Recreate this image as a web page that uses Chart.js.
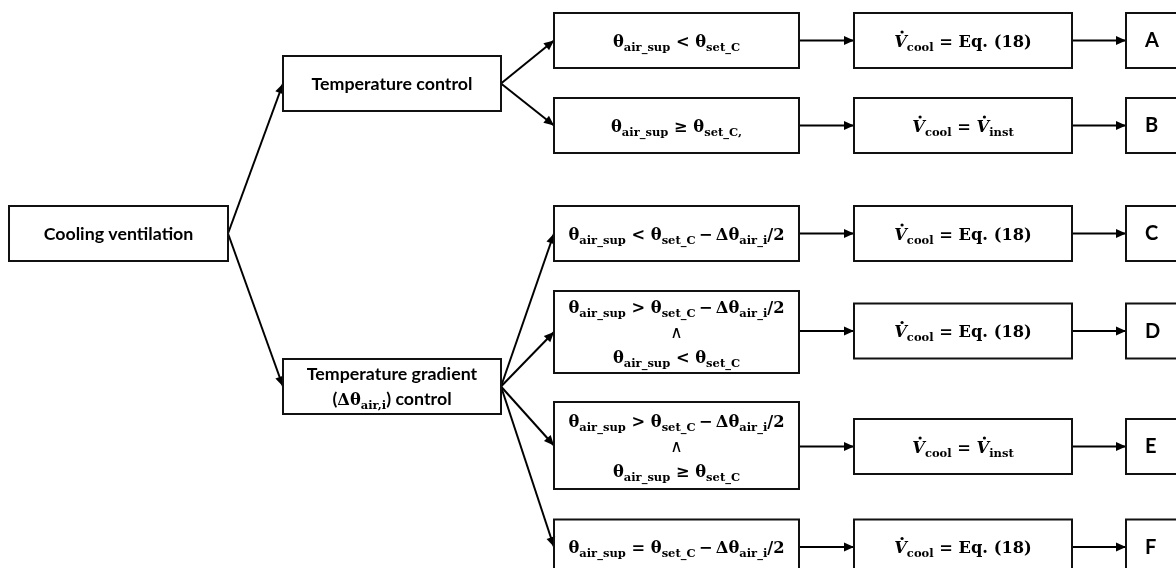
<!DOCTYPE html>
<html>
<head>
<meta charset="utf-8">
<script src="https://cdn.jsdelivr.net/npm/chart.js@4.4.1/dist/chart.umd.min.js"></script>
<style>
  html, body { margin: 0; padding: 0; background: #fff; }
  #wrap { width: 1176px; height: 568px; position: relative; }
</style>
</head>
<body>
<div id="wrap"><canvas id="flow"></canvas></div>
<script>
// node texts ($..$ = math font, _{..} = subscript, *..* = italic, \u0307 = dot above)
const rootText = 'Cooling ventilation';
const modeTexts = ['Temperature control', 'Temperature gradient\n($Δθ_{air,i}$) control'];
const conditionTexts = [
  'θ_{air_sup} < θ_{set_C}',
  'θ_{air_sup} ≥ θ_{set_C,}',
  'θ_{air_sup} < θ_{set_C}\u2009−\u2009Δθ_{air_i}/2',
  'θ_{air_sup} > θ_{set_C}\u2009−\u2009Δθ_{air_i}/2\n∧\nθ_{air_sup} < θ_{set_C}',
  'θ_{air_sup} > θ_{set_C}\u2009−\u2009Δθ_{air_i}/2\n∧\nθ_{air_sup} ≥ θ_{set_C}',
  'θ_{air_sup} = θ_{set_C}\u2009−\u2009Δθ_{air_i}/2'
];
const flowTexts = [
  '*V\u0307*_{cool} = Eq. (18)',
  '*V\u0307*_{cool} = *V\u0307*_{inst}',
  '*V\u0307*_{cool} = Eq. (18)',
  '*V\u0307*_{cool} = Eq. (18)',
  '*V\u0307*_{cool} = *V\u0307*_{inst}',
  '*V\u0307*_{cool} = Eq. (18)'
];
const caseLetters = ['A', 'B', 'C', 'D', 'E', 'F'];
const conditionMode = [0, 0, 1, 1, 1, 1]; // which mode each condition hangs from

// layout (scale units = pixels)
const colX = { root: [9, 228], mode: [283, 501], cond: [554, 799], flow: [854, 1072], letter: [1126, 1192] };
const rootY = 233.5;
const modeY = [83.5, 386.5];
const condY = [40.5, 125.5, 233.5, 332, 445.5, 547];
const condH = [55, 55, 55, 82, 87, 55];
const flowY = [40.5, 125.5, 233.5, 331, 446.5, 547];
const boxH = 55;

const SANS = '"Lato", "Open Sans", sans-serif';
const SERIF = '"DejaVu Serif", "Liberation Serif", serif';

function parse(str, defMath) {
  return str.split('\n').map(function (line) {
    const segs = [];
    let math = defMath, sub = false, ital = false, buf = '';
    const flush = function (dot) {
      if (buf) segs.push({ t: buf, math: math, sub: sub, ital: ital, dot: !!dot });
      buf = '';
    };
    for (let i = 0; i < line.length; i++) {
      const c = line[i];
      if (c === '$') { flush(); math = !math; }
      else if (c === '*') { flush(); ital = !ital; }
      else if (c === '_' && line[i + 1] === '{') { flush(); sub = true; i++; }
      else if (c === '}' && sub) { flush(); sub = false; }
      else if (c === '\u0307') { flush(true); }
      else buf += c;
    }
    flush();
    return segs;
  });
}

function segFont(s, big) {
  if (s.math) {
    if (s.t === '∧') return 'normal 17px ' + SERIF;
    const size = s.sub ? 11.5 : 16.3;
    return (s.ital ? 'italic ' : '') + 'bold ' + size + 'px ' + SERIF;
  }
  if (big) return 'bold 20px ' + SANS;
  return (s.sub ? 'bold 13px ' : 'bold 17.8px ') + SANS;
}

function drawRich(ctx, text, defMath, cx, cy, big) {
  const lines = parse(text, defMath);
  const gap = 25;
  const top = cy - (lines.length - 1) * gap / 2;
  lines.forEach(function (segs, li) {
    let w = 0;
    segs.forEach(function (s) { ctx.font = segFont(s, big); s.w = ctx.measureText(s.t).width; w += s.w; });
    let x = big ? cx : cx - w / 2;
    const base = top + li * gap + 6;
    segs.forEach(function (s) {
      ctx.font = segFont(s, big);
      ctx.fillText(s.t, x, base + (s.sub ? 4 : 0));
      if (s.dot) {
        ctx.beginPath();
        ctx.arc(x + s.w * 0.62, base - 14.5, 1.6, 0, Math.PI * 2);
        ctx.fill();
      }
      x += s.w;
    });
  });
}

// edges built from the layout
const edges = [];
modeY.forEach(function (y) { edges.push([[colX.root[1], rootY], [colX.mode[0], y]]); });
conditionMode.forEach(function (m, i) { edges.push([[colX.mode[1], modeY[m]], [colX.cond[0], condY[i]]]); });
flowY.forEach(function (y) { edges.push([[colX.cond[1], y], [colX.flow[0], y]]); });
flowY.forEach(function (y) { edges.push([[colX.flow[1], y], [colX.letter[0], y]]); });

const datasets = edges.map(function (e) {
  return {
    data: e.map(function (p) { return { x: p[0], y: p[1] }; }),
    showLine: true,
    borderColor: '#000',
    borderWidth: 2,
    pointRadius: 0,
    fill: false
  };
});

// boxes
const boxes = [{ x: colX.root, y: rootY, h: boxH, text: rootText, math: false }];
modeTexts.forEach(function (t, i) { boxes.push({ x: colX.mode, y: modeY[i], h: boxH, text: t, math: false }); });
conditionTexts.forEach(function (t, i) { boxes.push({ x: colX.cond, y: condY[i], h: condH[i], text: t, math: true }); });
flowTexts.forEach(function (t, i) { boxes.push({ x: colX.flow, y: flowY[i], h: boxH, text: t, math: true }); });
caseLetters.forEach(function (t, i) { boxes.push({ x: colX.letter, y: flowY[i], h: boxH, text: t, math: false, left: 1145 }); });

const flowPlugin = {
  id: 'flowPlugin',
  afterDatasetsDraw: function (chart) {
    const ctx = chart.ctx;
    const sx = chart.scales.x, sy = chart.scales.y;
    ctx.save();
    ctx.fillStyle = '#000';
    // arrow heads
    chart.data.datasets.forEach(function (ds, i) {
      const pts = chart.getDatasetMeta(i).data;
      const a = pts[0], b = pts[1];
      const ang = Math.atan2(b.y - a.y, b.x - a.x);
      const L = 10, W = 4.5;
      ctx.beginPath();
      ctx.moveTo(b.x, b.y);
      ctx.lineTo(b.x - L * Math.cos(ang) + W * Math.sin(ang), b.y - L * Math.sin(ang) - W * Math.cos(ang));
      ctx.lineTo(b.x - L * Math.cos(ang) - W * Math.sin(ang), b.y - L * Math.sin(ang) + W * Math.cos(ang));
      ctx.closePath();
      ctx.fill();
    });
    // boxes
    ctx.strokeStyle = '#111';
    ctx.lineWidth = 2;
    ctx.textAlign = 'left';
    ctx.textBaseline = 'alphabetic';
    boxes.forEach(function (b) {
      const x0 = sx.getPixelForValue(b.x[0]), x1 = sx.getPixelForValue(b.x[1]);
      const y0 = sy.getPixelForValue(b.y - b.h / 2), y1 = sy.getPixelForValue(b.y + b.h / 2);
      ctx.strokeRect(x0, y0, x1 - x0, y1 - y0);
      const big = !!b.left;
      const cx = big ? sx.getPixelForValue(b.left) : (x0 + x1) / 2;
      drawRich(ctx, b.text, b.math, cx, sy.getPixelForValue(b.y) + (big ? 0.5 : 0), big);
    });
    ctx.restore();
  }
};

new Chart(document.getElementById('flow'), {
  type: 'scatter',
  data: { datasets: datasets },
  options: {
    responsive: true,
    maintainAspectRatio: false,
    animation: false,
    layout: { padding: 0 },
    plugins: { legend: { display: false }, tooltip: { enabled: false } },
    scales: {
      x: { type: 'linear', min: 0, max: 1176, display: false },
      y: { type: 'linear', min: 0, max: 568, reverse: true, display: false }
    }
  },
  plugins: [flowPlugin]
});
</script>
</body>
</html>
